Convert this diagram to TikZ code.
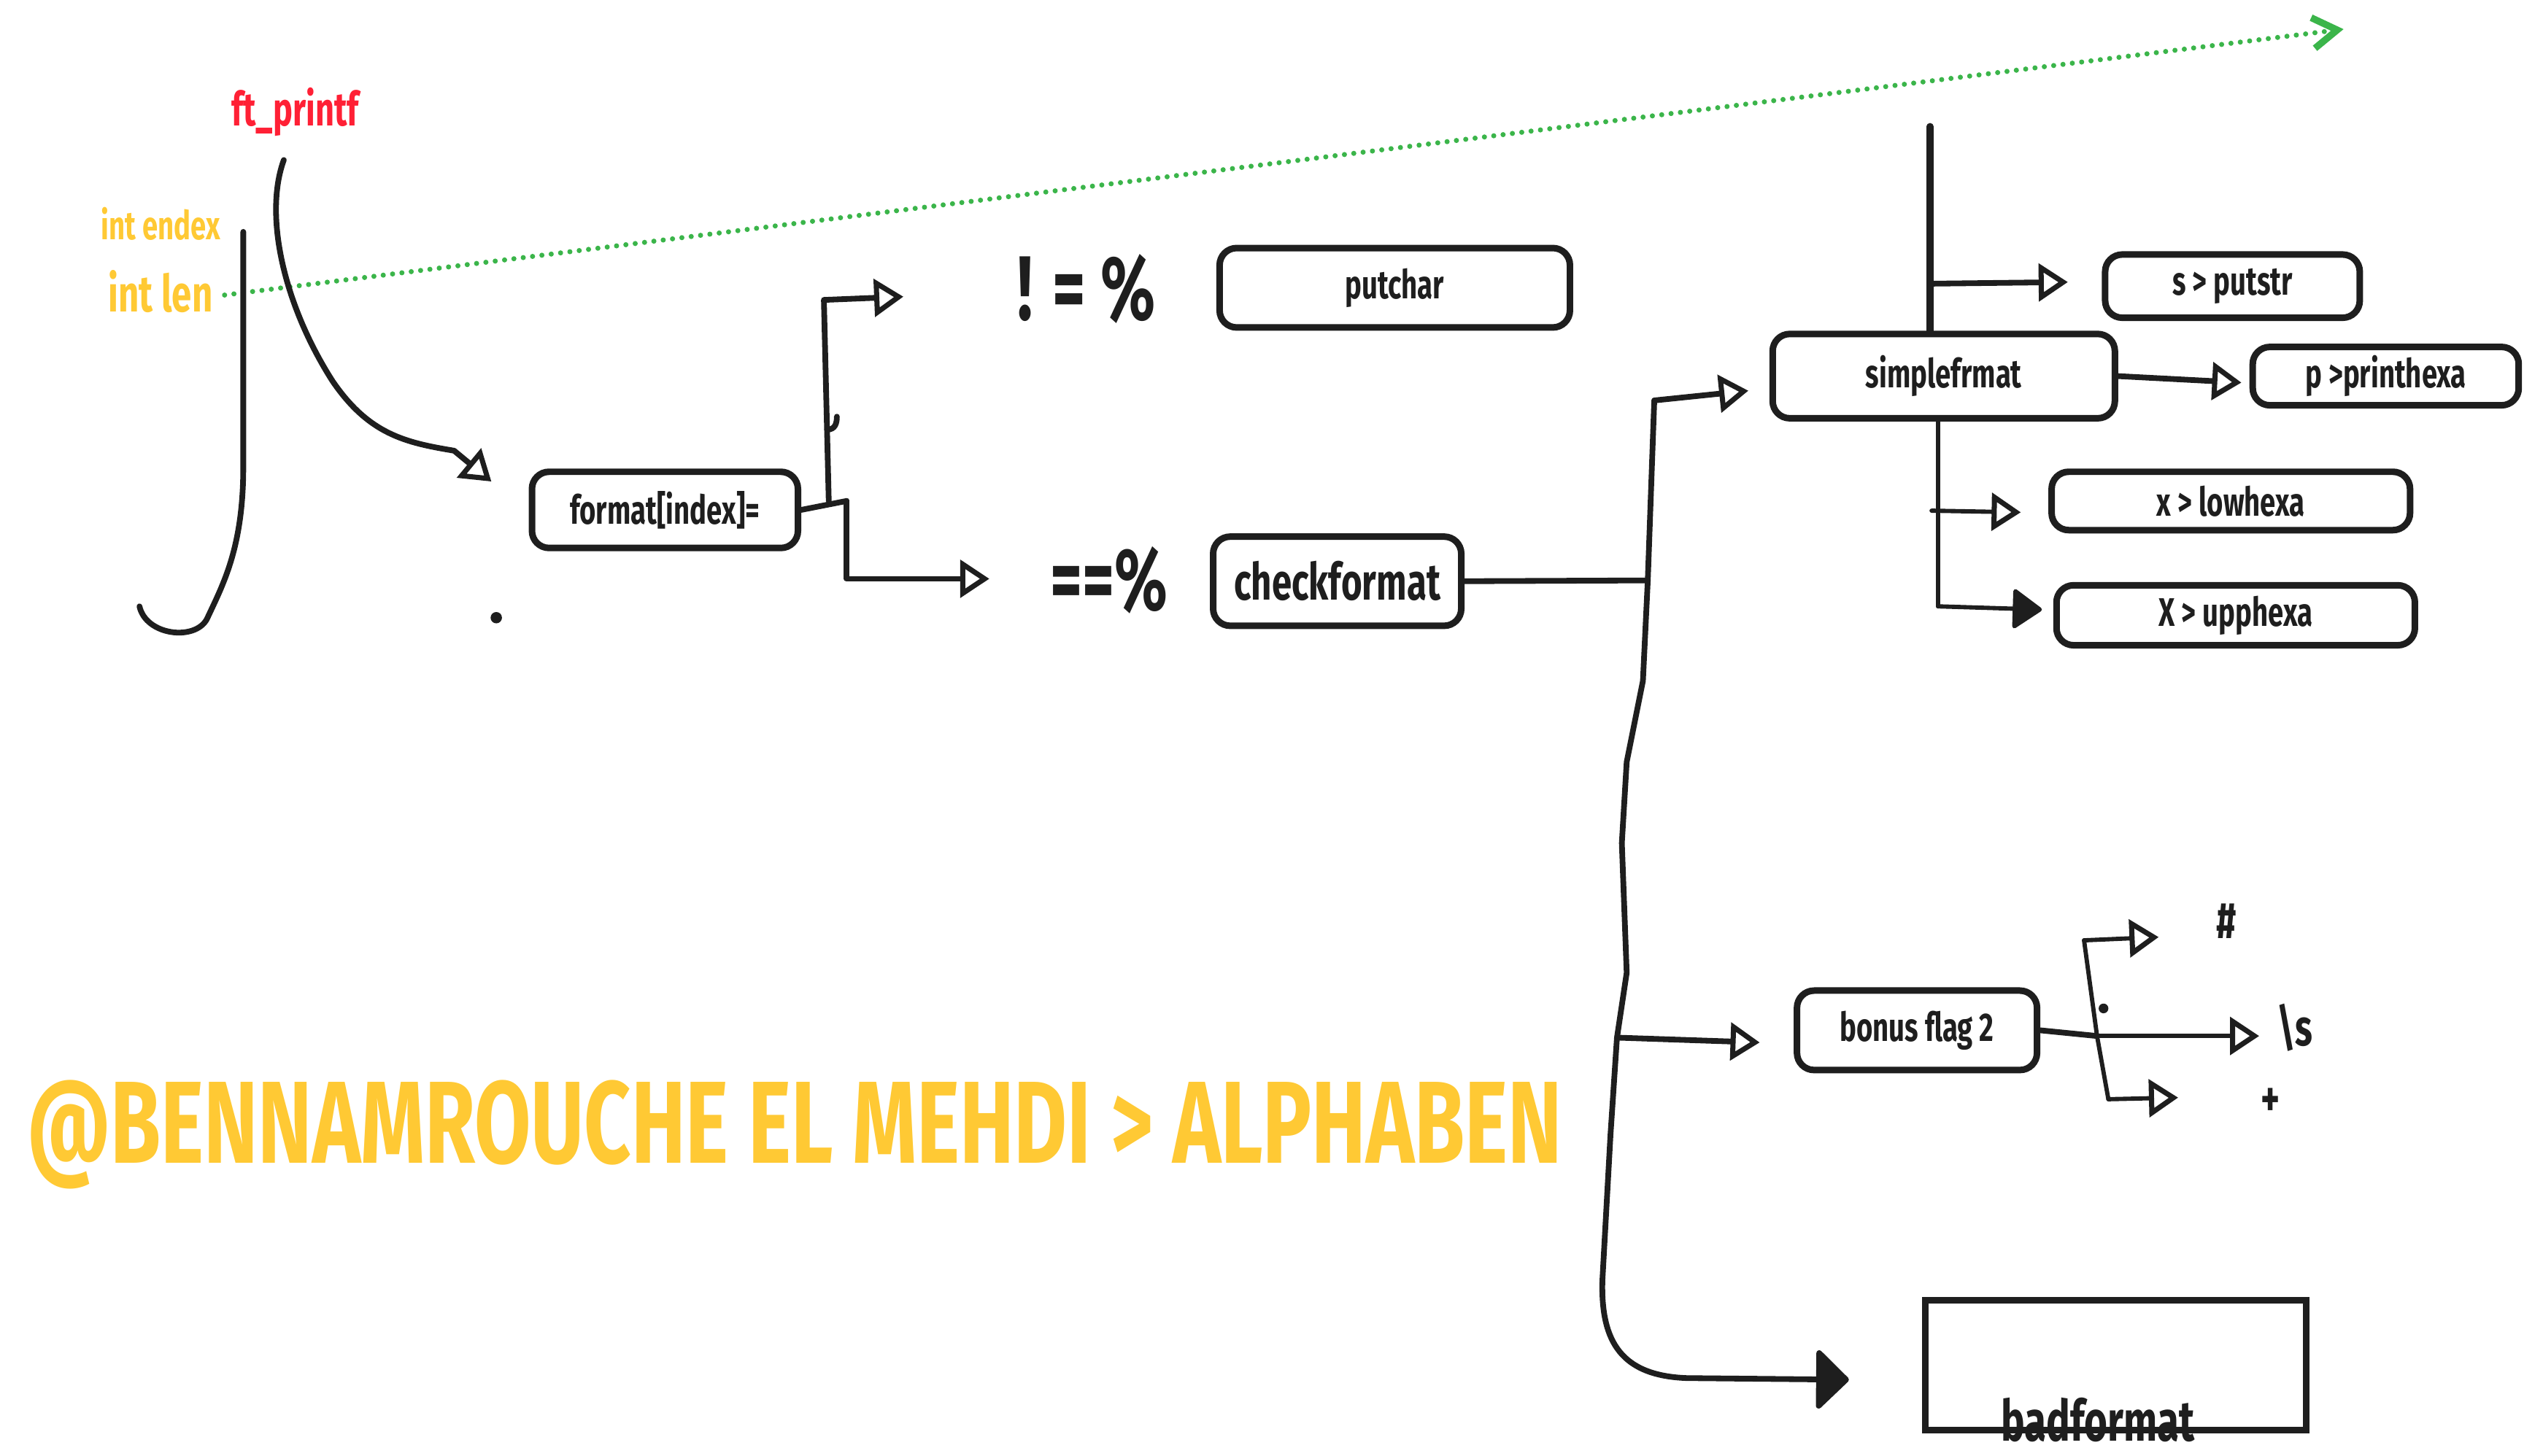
\documentclass[tikz,border=0pt]{standalone}
\usepackage{fontspec}
\setmainfont{Fira Sans}[FakeStretch=0.7]
\usepackage{xcolor}
\usetikzlibrary{arrows.meta, positioning, calc}
\definecolor{ink}{HTML}{1E1E1E}
\definecolor{hlyellow}{HTML}{FFC934}
\definecolor{hlred}{HTML}{FF2035}
\definecolor{hlgreen}{HTML}{3BB54A}

\begin{document}
\begin{tikzpicture}[
  box/.style={draw=ink, line width=2.3pt, rounded corners=6pt, text=ink, inner sep=0pt,
    font=\bfseries\fontsize{14}{16}\selectfont},
  conn/.style={draw=ink, line width=2pt, line cap=round, line join=round},
  twig/.style={draw=ink, line width=1.5pt, line cap=round, line join=round},
  opentip/.style={-{Triangle[open, length=0.36cm, width=0.46cm, line width=1.8pt]}},
  filltip/.style={-{Triangle[round, length=0.38cm, width=0.52cm]}},
  glyph/.style={text=ink, inner sep=0pt},
  ]
  \useasboundingbox (0,0) rectangle (31.36,17.96);

  \node[text=hlred, font=\bfseries\fontsize{16.5}{18}\selectfont] (ft) at (3.64,16.58) {ft\_printf};
  \node[text=hlyellow, font=\bfseries\fontsize{14}{16}\selectfont] (endex) at (1.98,15.20) {int endex};
  \node[text=hlyellow, font=\bfseries\fontsize{18}{20}\selectfont, inner sep=0pt] (len) at (1.98,14.36) {int len};

  \coordinate (greenend) at (28.90,17.60);
  \draw[hlgreen, line width=1.8pt, line cap=round, dash pattern=on 0pt off 3.3pt,
    -{Straight Barb[length=0.3cm, width=0.38cm, line width=2.4pt]}]
    ($(len.east)+(0.14,-0.04)$) -- (greenend);

  \draw[conn] (3.00,15.10) -- (3.00,12.20) .. controls (3.00,11.20) and (2.75,10.75) .. (2.55,10.32)
    .. controls (2.40,10.05) and (1.80,10.12) .. (1.72,10.48);

  \node[box, minimum width=3.28cm, minimum height=0.94cm] (fmt) at (8.20,11.67) {format[index]=};
  \fill[ink] (6.12,10.34) circle (0.07);

  \draw[conn, opentip] ($(ft.south)+(-0.14,-0.17)$) .. controls (3.25,15.3) and (3.50,14.2) .. (4.10,13.26)
    .. controls (4.55,12.6) and (5.0,12.5) .. (5.60,12.40) -- ($(fmt.west)+(-0.46,0.35)$);

  \node[glyph, font=\bfseries\fontsize{32}{34}\selectfont] (neq) at (13.40,14.40) {! = \%};
  \node[glyph, font=\bfseries\fontsize{31}{33}\selectfont] (eq) at (13.68,10.80) {==\%};

  \coordinate (fork) at (10.44,11.78);
  \coordinate (forkup) at (10.22,11.78);
  \coordinate (upbend) at (10.16,14.26);
  \coordinate (lowbend) at (10.44,10.82);
  \coordinate (neqtip) at (11.14,14.30);
  \coordinate (eqtip) at (12.20,10.82);
  \draw[conn] (fmt.east) -- (fork);
  \draw[conn, opentip] (forkup) -- (upbend) -- (neqtip);
  \draw[conn, opentip] (fork) -- (lowbend) -- (eqtip);
  \draw[conn] (10.20,12.66) .. controls (10.30,12.66) and (10.32,12.74) .. (10.32,12.82);

  \node[box, minimum width=4.32cm, minimum height=0.98cm] (putchar) at (17.20,14.41) {putchar};
  \node[box, font=\bfseries\fontsize{18}{20}\selectfont, minimum width=3.06cm, minimum height=1.10cm] (check) at (16.49,10.79) {checkformat};

  \coordinate (trunktop) at (20.40,13.02);
  \coordinate (trunkmid) at (20.32,10.80);
  \coordinate (trunkbonus) at (19.94,5.16);
  \coordinate (simpletip) at (21.56,13.14);
  \coordinate (bonustip) at (21.70,5.10);
  \coordinate (badtip) at (22.80,0.94);
  \draw[conn] (check.east) -- (trunkmid);
  \draw[conn, opentip] (trunktop) -- (simpletip);
  \draw[conn, opentip] (trunkbonus) -- (bonustip);
  \draw[conn, -{Triangle[round, length=0.42cm, width=0.8cm]}] (trunktop) -- (trunkmid) -- (20.26,9.56) -- (20.06,8.56)
    -- (20.00,7.56) -- (20.06,5.96) -- (trunkbonus) -- (19.86,3.96) -- (19.76,2.16)
    .. controls (19.74,1.40) and (20.00,0.99) .. (20.80,0.96) -- (badtip);

  \node[box, minimum width=4.22cm, minimum height=1.04cm] (simple) at (23.97,13.32) {simplefrmat};
  \node[box, minimum width=3.14cm, minimum height=0.78cm] (putstr) at (27.53,14.43) {s > putstr};
  \node[box, minimum width=3.28cm, minimum height=0.72cm] (printhexa) at (29.42,13.32) {p >printhexa};
  \node[box, minimum width=4.42cm, minimum height=0.72cm] (lowhexa) at (27.51,11.78) {x > lowhexa};
  \node[box, minimum width=4.42cm, minimum height=0.74cm] (upphexa) at (27.57,10.37) {X > upphexa};

  \coordinate (stem) at (23.80,16.40);
  \coordinate (sfork) at (23.80,14.46);
  \coordinate (strtip) at (25.50,14.48);
  \coordinate (hexatip) at (27.64,13.24);
  \coordinate (sbottom) at (23.90,10.48);
  \coordinate (lfork) at (23.82,11.66);
  \coordinate (lowtip) at (24.92,11.64);
  \coordinate (upptip) at (25.18,10.44);
  \draw[conn, line width=2.4pt] (stem) -- (stem |- simple.north);
  \draw[conn, opentip] (sfork) -- (strtip);
  \draw[conn, opentip] (simple.east) -- (hexatip);
  \draw[twig] (sbottom |- simple.south) -- (sbottom);
  \draw[twig, opentip] (lfork) -- (lowtip);
  \draw[twig, filltip] (sbottom) -- (upptip);

  \node[box, minimum width=2.96cm, minimum height=0.98cm] (bonus) at (23.64,5.25) {bonus flag 2};
  \coordinate (bfork) at (25.86,5.18);
  \coordinate (btop) at (25.70,6.36);
  \coordinate (bbot) at (26.00,4.40);
  \coordinate (hashtip) at (26.62,6.40);
  \coordinate (spacetip) at (27.86,5.18);
  \coordinate (plustip) at (26.86,4.42);
  \draw[conn] (bonus.east) -- (bfork);
  \draw[twig] (btop) -- (bfork) -- (bbot);
  \draw[twig, opentip] (btop) -- (hashtip);
  \draw[twig, opentip] (bfork) -- (spacetip);
  \draw[twig, opentip] (bbot) -- (plustip);
  \fill[ink] (25.94,5.52) circle (0.06);
  \node[glyph, font=\bfseries\fontsize{18}{20}\selectfont] (hash) at (27.46,6.60) {\#};
  \node[glyph, font=\bfseries\fontsize{18}{20}\selectfont] (space) at (28.30,5.28) {\textbackslash s};
  \node[glyph, font=\bfseries\fontsize{18}{20}\selectfont] (plus) at (28.00,4.36) {+};

  \node[draw=ink, line width=2.2pt, minimum width=4.70cm, minimum height=1.60cm,
    label={[anchor=center, xshift=-0.22cm, yshift=0.16cm, text=ink, font=\bfseries\fontsize{20}{22}\selectfont]south:badformat}] (bad) at (26.09,1.12) {};

  \node[text=hlyellow, font=\bfseries\fontsize{41}{45}\selectfont] (credit) at (9.80,3.96) {@BENNAMROUCHE EL MEHDI > ALPHABEN};
\end{tikzpicture}
\end{document}
